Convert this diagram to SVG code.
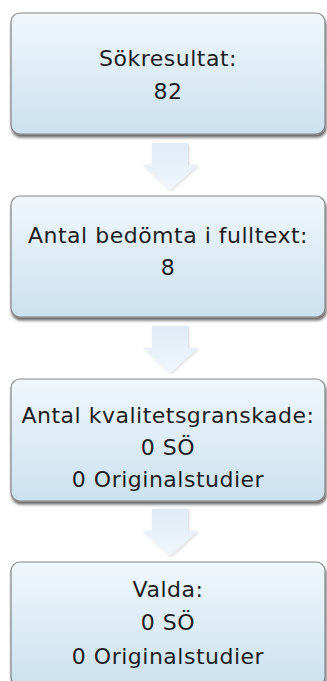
<svg xmlns="http://www.w3.org/2000/svg" width="327" height="681" viewBox="0 0 327 681">
  <defs>
    <linearGradient id="boxFill" x1="0" y1="0" x2="0" y2="1">
      <stop offset="0" stop-color="#f0f7fc"/>
      <stop offset="1" stop-color="#cbe1ef"/>
    </linearGradient>
    <linearGradient id="arrowFill" x1="0" y1="0" x2="0" y2="1">
      <stop offset="0" stop-color="#dfebf6"/>
      <stop offset="1" stop-color="#f0f6fb"/>
    </linearGradient>
    <filter id="shadow" x="-10%" y="-10%" width="125%" height="130%">
      <feGaussianBlur in="SourceAlpha" stdDeviation="1.8"/>
      <feOffset dx="1" dy="3" result="b"/>
      <feComponentTransfer><feFuncA type="linear" slope="0.6"/></feComponentTransfer>
      <feMerge><feMergeNode/><feMergeNode in="SourceGraphic"/></feMerge>
    </filter>
    <filter id="softShadow" x="-20%" y="-20%" width="150%" height="150%">
      <feGaussianBlur in="SourceAlpha" stdDeviation="1.5"/>
      <feOffset dx="1" dy="1"/>
      <feComponentTransfer><feFuncA type="linear" slope="0.18"/></feComponentTransfer>
      <feMerge><feMergeNode/><feMergeNode in="SourceGraphic"/></feMerge>
    </filter>
  </defs>
  <style>
    .box { fill: url(#boxFill); stroke: #858585; stroke-width: 1.2; filter: url(#shadow); }
    .arrow { fill: url(#arrowFill); stroke: none; filter: url(#softShadow); }
    .label { font-family: "DejaVu Sans", "Liberation Sans", sans-serif; font-size: 22px; letter-spacing: 0.5px; fill: #1e1e1e; text-anchor: middle; }
  </style>
  <rect width="327" height="681" fill="#ffffff"/>

  <!-- connectors: block arrows between stages -->
  <g id="connectors">
    <path class="arrow" d="M152,143 H188 V165 H198 L170,190 L143,165 H152 Z"/>
    <path class="arrow" d="M152,326 H188 V348 H198 L170,373 L143,348 H152 Z"/>
    <path class="arrow" d="M152,509 H188 V531 H198 L170,556 L143,531 H152 Z"/>
  </g>

  <g id="node-search">
    <rect class="box" x="11" y="13" width="314" height="121" rx="9"/>
    <text class="label" x="168" y="66">Sökresultat:</text>
    <text class="label" x="168" y="99">82</text>
  </g>

  <g id="node-fulltext">
    <rect class="box" x="11" y="196" width="314" height="121" rx="9"/>
    <text class="label" x="168" y="243">Antal bedömta i fulltext:</text>
    <text class="label" x="168" y="275">8</text>
  </g>

  <g id="node-quality">
    <rect class="box" x="11" y="379" width="314" height="122" rx="9"/>
    <text class="label" x="168" y="423">Antal kvalitetsgranskade:</text>
    <text class="label" x="168" y="455">0 SÖ</text>
    <text class="label" x="168" y="487">0 Originalstudier</text>
  </g>

  <g id="node-selected">
    <rect class="box" x="11" y="562" width="314" height="124" rx="9"/>
    <text class="label" x="168" y="597">Valda:</text>
    <text class="label" x="168" y="630">0 SÖ</text>
    <text class="label" x="168" y="664">0 Originalstudier</text>
  </g>
</svg>
